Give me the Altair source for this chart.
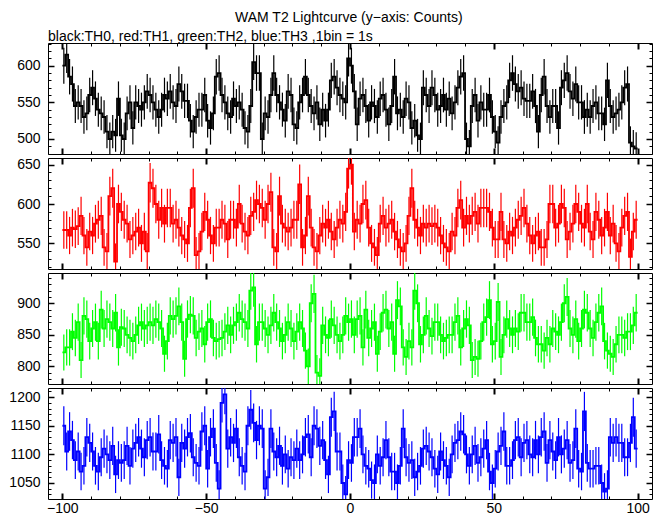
import altair as alt
import numpy as np
import pandas as pd

# bin start times (1 s bins)
t_start = list(range(-100, 100))

th0 = [600, 615, 585, 575, 545, 550, 545, 530, 535, 560,
       570, 555, 540, 535, 530, 510, 500, 510, 505, 555,
       505, 500, 535, 550, 515, 550, 545, 540, 550, 565,
       560, 550, 540, 530, 540, 560, 555, 565, 550, 545,
       575, 565, 552, 552, 525, 510, 530, 540, 540, 560,
       525, 515, 535, 585, 590, 560, 550, 535, 530, 555,
       545, 550, 540, 515, 510, 545, 605, 590, 590, 500,
       535, 530, 560, 590, 560, 550, 540, 525, 565, 560,
       520, 515, 550, 560, 585, 560, 545, 535, 550, 520,
       540, 525, 540, 580, 585, 570, 560, 555, 550, 610,
       600, 565, 520, 555, 560, 545, 525, 550, 545, 530,
       555, 560, 540, 520, 545, 585, 535, 540, 530, 555,
       550, 515, 525, 505, 500, 570, 560, 545, 570, 560,
       540, 545, 560, 540, 555, 535, 550, 570, 585, 590,
       500, 490, 545, 560, 525, 550, 540, 540, 560, 530,
       510, 495, 530, 545, 550, 580, 590, 575, 565, 570,
       555, 552, 552, 565, 545, 510, 560, 585, 545, 530,
       545, 545, 515, 570, 580, 590, 565, 555, 575, 550,
       550, 530, 540, 530, 545, 550, 535, 535, 520, 580,
       545, 530, 535, 540, 550, 570, 575, 495, 490, 487]

th1 = [567, 567, 560, 570, 568, 572, 585, 560, 545, 565,
       560, 575, 580, 585, 545, 540, 610, 620, 527, 600,
       590, 580, 575, 555, 560, 565, 570, 550, 565, 540,
       627, 620, 600, 580, 595, 575, 595, 595, 575, 580,
       570, 560, 555, 550, 595, 620, 535, 540, 565, 590,
       580, 560, 550, 570, 570, 580, 575, 555, 580, 580,
       570, 600, 575, 565, 560, 585, 590, 605, 600, 595,
       580, 600, 615, 545, 540, 610, 575, 570, 565, 570,
       580, 580, 625, 545, 560, 610, 570, 545, 540, 560,
       575, 570, 580, 565, 555, 570, 580, 575, 590, 645,
       650, 565, 580, 575, 600, 605, 570, 550, 545, 535,
       575, 585, 570, 575, 580, 565, 555, 545, 540, 550,
       585, 620, 580, 570, 560, 575, 570, 575, 572, 575,
       570, 560, 550, 545, 540, 565, 560, 595, 605, 570,
       585, 575, 585, 590, 575, 595, 595, 595, 590, 570,
       555, 555, 590, 555, 550, 565, 560, 570, 580, 585,
       595, 575, 560, 550, 560, 565, 545, 545, 555, 600,
       600, 570, 575, 600, 595, 555, 565, 575, 600, 590,
       575, 570, 600, 565, 555, 590, 580, 560, 570, 590,
       560, 575, 550, 540, 570, 585, 590, 533, 565, 580]

th2 = [822, 830, 830, 855, 845, 870, 810, 880, 875, 840,
       860, 870, 840, 890, 860, 875, 870, 860, 885, 830,
       862, 860, 850, 845, 840, 850, 865, 870, 860, 865,
       870, 865, 875, 870, 860, 820, 840, 880, 875, 880,
       895, 870, 812, 875, 882, 880, 845, 855, 860, 835,
       870, 875, 845, 840, 843, 845, 855, 865, 850, 865,
       870, 885, 875, 870, 860, 920, 925, 835, 870, 870,
       860, 850, 865, 885, 870, 860, 840, 850, 870, 860,
       840, 855, 870, 860, 825, 800, 900, 915, 790, 785,
       865, 850, 845, 875, 865, 850, 840, 850, 880, 870,
       875, 850, 875, 880, 830, 890, 845, 860, 870, 820,
       855, 885, 890, 860, 870, 820, 905, 895, 830, 815,
       840, 830, 920, 900, 835, 850, 880, 860, 848, 870,
       870, 850, 840, 845, 850, 850, 870, 880, 830, 860,
       875, 865, 810, 815, 812, 840, 870, 878, 905, 835,
       840, 902, 815, 850, 875, 860, 850, 860, 855, 885,
       885, 870, 870, 878, 845, 835, 835, 825, 845, 835,
       860, 855, 850, 870, 900, 910, 860, 850, 875, 840,
       860, 890, 885, 860, 845, 870, 885, 895, 840, 825,
       820, 815, 835, 850, 850, 845, 855, 855, 865, 885]

th3 = [1150, 1105, 1140, 1125, 1090, 1105, 1070, 1080, 1130, 1120,
       1105, 1080, 1070, 1095, 1110, 1100, 1090, 1115, 1065, 1090,
       1085, 1090, 1115, 1080, 1110, 1120, 1130, 1110, 1095, 1125,
       1130, 1105, 1105, 1135, 1090, 1080, 1075, 1125, 1120, 1130,
       1060, 1120, 1110, 1130, 1137, 1095, 1085, 1080, 1140, 1150,
       1075, 1130, 1145, 1085, 1040, 1190, 1205, 1110, 1130, 1120,
       1145, 1095, 1080, 1070, 1150, 1178, 1155, 1125, 1150, 1145,
       1040, 1060, 1145, 1105, 1095, 1115, 1080, 1100, 1075, 1095,
       1090, 1110, 1090, 1100, 1130, 1135, 1095, 1150, 1145, 1115,
       1125, 1090, 1065, 1165, 1175, 1105, 1105, 1050, 1030, 1090,
       1085, 1130, 1130, 1145, 1100, 1080, 1075, 1055, 1050, 1100,
       1080, 1095, 1125, 1095, 1070, 1070, 1050, 1080, 1145, 1095,
       1085, 1090, 1060, 1070, 1080, 1110, 1115, 1105, 1095, 1075,
       1065, 1105, 1090, 1080, 1060, 1100, 1120, 1125, 1140, 1135,
       1100, 1080, 1100, 1115, 1085, 1095, 1110, 1125, 1070, 1050,
       1075, 1105, 1115, 1140, 1080, 1080, 1090, 1125, 1130, 1095,
       1120, 1125, 1100, 1095, 1125, 1100, 1130, 1140, 1085, 1125,
       1105, 1090, 1130, 1100, 1110, 1125, 1085, 1090, 1145, 1075,
       1070, 1175, 1085, 1075, 1075, 1080, 1080, 1050, 1035, 1040,
       1130, 1120, 1130, 1120, 1120, 1095, 1095, 1120, 1165, 1110]

series = [th0, th1, th2, th3]
colors = ["#000000", "#ff0000", "#00ff00", "#0000ff"]
y_domains = [[479.5, 631], [517.5, 658.4], [772, 948], [1022, 1216]]
x_domain = [-105, 105]
x_major = [-100, -50, 0, 50, 100]
x_minor = list(range(-100, 101, 10))

title_text = "WAM T2 Lightcurve (y\u2212axis: Counts)"
subtitle_text = "black:TH0, red:TH1, green:TH2, blue:TH3 ,1bin = 1s"

FONT = "Liberation Sans"
PW, PH = 604, 111


def tick_values(dom, step):
    lo = int(np.ceil(dom[0] / step) * step)
    return [int(v) for v in range(lo, int(np.floor(dom[1])) + 1, step)]


def ax(orient, values, size, width, labels=False, pad=4):
    return alt.Axis(orient=orient, values=values, tickSize=size, offset=-size,
                    tickWidth=width, tickColor="black", domain=False, grid=False,
                    labels=labels, labelFont=FONT, labelFontSize=14,
                    labelColor="black", labelPadding=pad, title=None,
                    labelOverlap=False, format="d")


def panel(vals, color, ydom, show_x_labels, title=None):
    df = pd.DataFrame({"t": t_start, "c": vals})
    df["tm"] = df["t"] + 0.5
    err = np.sqrt(df["c"])
    df["lo"] = df["c"] - err
    df["hi"] = df["c"] + err
    step = pd.concat([df[["t", "c"]],
                      pd.DataFrame({"t": [t_start[-1] + 1], "c": [vals[-1]]})],
                     ignore_index=True)

    xs = alt.Scale(domain=x_domain, nice=False, zero=False)
    ys = alt.Scale(domain=ydom, nice=False, zero=False)
    ymaj = tick_values(ydom, 50)
    ymin = tick_values(ydom, 10)

    line = alt.Chart(step).mark_line(interpolate="step-after", color=color,
                                     strokeWidth=1.8, clip=True).encode(
        x=alt.X("t:Q", scale=xs, axis=ax("bottom", x_major, 6, 2, labels=show_x_labels, pad=2)),
        y=alt.Y("c:Q", scale=ys, axis=ax("left", ymaj, 6, 1.5, labels=True, pad=8)),
    )
    bars = alt.Chart(df).mark_rule(color=color, strokeWidth=1.2, clip=True).encode(
        x=alt.X("tm:Q", scale=xs, axis=ax("bottom", x_minor, 3, 1)),
        y=alt.Y("lo:Q", scale=ys, axis=ax("left", ymin, 3, 1)),
        y2="hi:Q",
    )
    line2 = alt.Chart(step).mark_line(interpolate="step-after", opacity=0, clip=True).encode(
        x=alt.X("t:Q", scale=xs, axis=ax("top", x_major, 6, 2)),
        y=alt.Y("c:Q", scale=ys, axis=ax("right", ymaj, 6, 1.5)),
    )
    bars2 = alt.Chart(df).mark_rule(opacity=0, clip=True).encode(
        x=alt.X("tm:Q", scale=xs, axis=ax("top", x_minor, 3, 1)),
        y=alt.Y("lo:Q", scale=ys, axis=ax("right", ymin, 3, 1)),
        y2="hi:Q",
    )
    props = dict(width=PW, height=PH)
    if title is not None:
        props["title"] = title
    return alt.layer(line, bars, line2, bars2).resolve_axis(
        x="independent", y="independent").properties(**props)


sub = alt.TitleParams(subtitle_text, anchor="start", frame="group", font=FONT,
                      fontSize=14, fontWeight="normal", color="black", offset=-2)

panels = []
for k in range(4):
    panels.append(panel(series[k], colors[k], y_domains[k], k == 3,
                        title=sub if k == 0 else None))

chart = alt.vconcat(*panels, spacing=0).properties(
    title=alt.TitleParams(title_text, anchor="middle", font=FONT, fontSize=14,
                          fontWeight="normal", color="black", offset=5, dx=18),
    padding={"top": 2, "left": 0, "right": 0, "bottom": 0},
    background="white",
).configure_view(stroke="black", strokeWidth=1)

chart.save("out.html", embed_options={"renderer": "svg", "actions": False})
